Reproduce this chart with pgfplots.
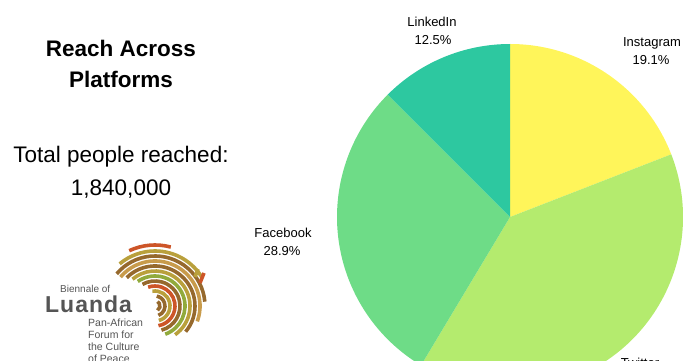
\documentclass[border=0pt]{standalone}
\usepackage{pgfplots}
\usepackage{pgfplotstable}
\pgfplotsset{compat=1.18}
\usepackage{fontspec}
\setmainfont{Liberation Sans}
\definecolor{cInsta}{RGB}{255,245,90}
\definecolor{cTwit}{RGB}{180,235,110}
\definecolor{cFace}{RGB}{110,220,135}
\definecolor{cLink}{RGB}{45,200,160}
\definecolor{lgOr}{RGB}{205,85,40}
\definecolor{lgBr}{RGB}{150,105,45}
\definecolor{lgOl}{RGB}{185,160,60}
\definecolor{lgGr}{RGB}{145,170,60}
\definecolor{lgTa}{RGB}{200,155,75}
\definecolor{lgGy}{RGB}{85,85,85}
\pgfplotstableread{
name pct
Instagram 19.1
Twitter 39.5
Facebook 28.9
LinkedIn 12.5
}\pietable
\begin{document}
\begin{tikzpicture}[x=1pt,y=1pt]
\useasboundingbox (0,0) rectangle (683,361);
\clip (0,0) rectangle (683,361);
\pgfplotstablegetelem{0}{pct}\of\pietable \pgfmathsetmacro\aB{90-3.6*\pgfplotsretval}
\pgfplotstablegetelem{1}{pct}\of\pietable \pgfmathsetmacro\aC{\aB-3.6*\pgfplotsretval}
\pgfplotstablegetelem{2}{pct}\of\pietable \pgfmathsetmacro\aD{\aC-3.6*\pgfplotsretval}
\pgfplotstablegetelem{3}{pct}\of\pietable \pgfmathsetmacro\aE{\aD-3.6*\pgfplotsretval}
\begin{axis}[at={(0,0)},anchor=south west,scale only axis,width=683pt,height=361pt,
  xmin=0,xmax=683,ymin=0,ymax=361,hide axis,clip=false]
\fill[cInsta] (axis cs:510,144) -- ++(90:173pt) arc[start angle=90,end angle=\aB,radius=173pt] -- cycle;
\fill[cTwit] (axis cs:510,144) -- ++(\aB:173pt) arc[start angle=\aB,end angle=\aC,radius=173pt] -- cycle;
\fill[cFace] (axis cs:510,144) -- ++(\aC:173pt) arc[start angle=\aC,end angle=\aD,radius=173pt] -- cycle;
\fill[cLink] (axis cs:510,144) -- ++(\aD:173pt) arc[start angle=\aD,end angle=\aE,radius=173pt] -- cycle;
\end{axis}
% slice labels
\begin{scope}[every node/.style={font=\fontsize{13}{15}\selectfont,anchor=base,inner sep=0pt}]
\node at (432,334) {LinkedIn};
\node at (433,316.5) {12.5\%};
\node at (652,314) {Instagram};
\node at (651,296) {19.1\%};
\node at (283,123) {Facebook};
\node at (282,105) {28.9\%};
\node at (640,-7) {Twitter};
\end{scope}
% titles
\begin{scope}[every node/.style={font=\fontsize{22.5}{27}\selectfont,anchor=base,inner sep=0pt}]
\node[font=\fontsize{22.5}{27}\selectfont\bfseries] at (121,304.5) {Reach Across};
\node[font=\fontsize{22.5}{27}\selectfont\bfseries] at (121,273) {Platforms};
\node at (121,198) {Total people reached:};
\node at (121,165) {1,840,000};
\end{scope}
% logo
\begin{scope}[line width=3.6pt]
\draw[lgBr] (155,55) ++(-60:5) arc[start angle=-60,end angle=60,radius=5];
\draw[lgBr] (155,55) ++(-70:10) arc[start angle=-70,end angle=80,radius=10];
\draw[lgOl] (155,55) ++(-75:15) arc[start angle=-75,end angle=100,radius=15];
\draw[lgOr] (155,55) ++(-80:20) arc[start angle=-80,end angle=110,radius=20];
\draw[lgBr] (155,55) ++(-75:25) arc[start angle=-75,end angle=120,radius=25];
\draw[lgGr] (155,55) ++(-70:30) arc[start angle=-70,end angle=125,radius=30];
\draw[lgOl] (155,55) ++(-55:35) arc[start angle=-55,end angle=130,radius=35];
\draw[lgBr] (155,55) ++(-40:40) arc[start angle=-40,end angle=135,radius=40];
\draw[lgTa] (155,55) ++(-20:45) arc[start angle=-20,end angle=140,radius=45];
\draw[lgBr] (155,55) ++(5:50) arc[start angle=5,end angle=140,radius=50];
\draw[lgOl] (155,55) ++(30:55) arc[start angle=30,end angle=130,radius=55];
\draw[lgOr] (155,55) ++(75:61) arc[start angle=75,end angle=115,radius=61];
\draw[lgOr] (200,78) -- (204,88);
\draw[lgOl] (195,84) -- (198,92);
\end{scope}
\begin{scope}[every node/.style={anchor=base west,inner sep=0pt,text=lgGy}]
\node[font=\fontsize{10}{12}\selectfont] at (60,68) {Biennale of};
\node[font=\fontsize{23}{25}\selectfont\bfseries] at (45,48) {L\kern1pt u\kern1pt a\kern1pt n\kern1pt d\kern1pt a};
\node[font=\fontsize{10.5}{12}\selectfont] at (88,34.5) {Pan-African};
\node[font=\fontsize{10.5}{12}\selectfont] at (88,22.5) {Forum for};
\node[font=\fontsize{10.5}{12}\selectfont] at (88,10.5) {the Culture};
\node[font=\fontsize{10.5}{12}\selectfont] at (88,-1.5) {of Peace};
\end{scope}
\end{tikzpicture}
\end{document}
